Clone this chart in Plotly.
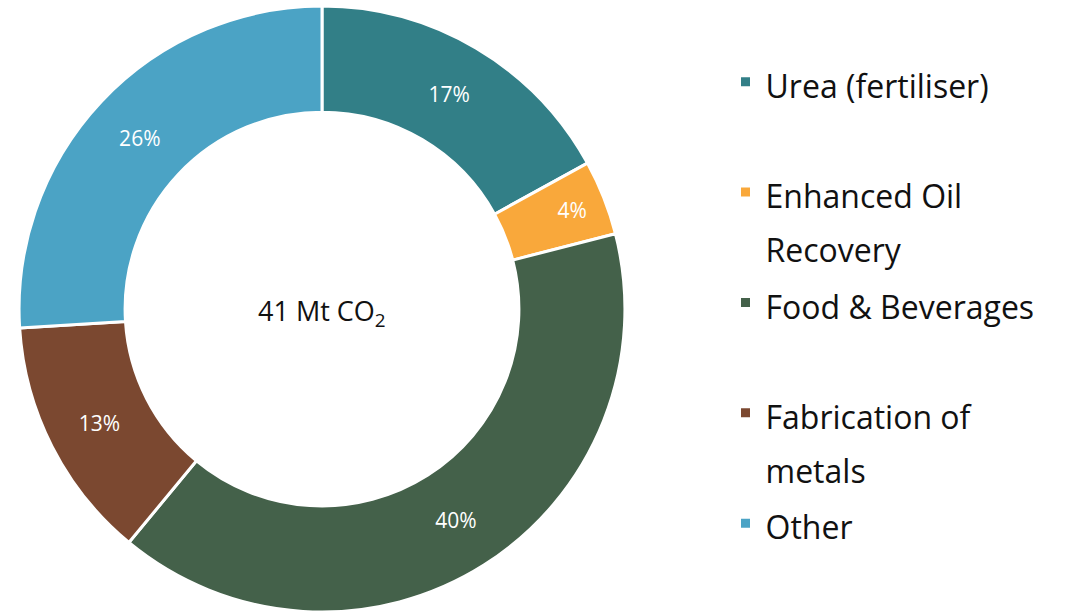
import plotly.graph_objects as go

labels = ["Urea (fertiliser)", "Enhanced Oil Recovery", "Food & Beverages", "Fabrication of metals", "Other"]
legend_labels = ["Urea (fertiliser)<br> ", "Enhanced Oil<br>Recovery", "Food & Beverages<br> ",
                 "Fabrication of<br>metals", "Other<br> "]
values = [17, 4, 40, 13, 26]
colors = ["#327F87", "#F9A83B", "#44614A", "#7B4830", "#4BA3C5"]
center_text = "41 Mt CO<sub>2</sub>"

FONT = "Open Sans, Lato, sans-serif"
SPAN = '<span style="font-size:32px">'

fig = go.Figure(go.Pie(
    labels=[SPAN + l.replace("<br>", "</span><br>" + SPAN) + "</span>" for l in legend_labels],
    values=values,
    marker=dict(colors=colors, line=dict(color="white", width=3)),
    hole=0.65,
    sort=False,
    direction="clockwise",
    rotation=0,
    textinfo="percent",
    textposition="inside",
    insidetextorientation="horizontal",
    textfont=dict(color="white", size=21, family=FONT),
    domain=dict(x=[0, 644 / 1079], y=[0, 0.99]),
    hoverinfo="label+percent",
))

fig.add_annotation(text=center_text, x=322 / 1079, y=1 - 312 / 612, xref="paper", yref="paper",
                   xanchor="center", yanchor="middle",
                   showarrow=False, font=dict(size=27, color="#111", family=FONT))

fig.update_layout(
    width=1079, height=612,
    margin=dict(l=0, r=0, t=0, b=0),
    paper_bgcolor="white",
    font=dict(family=FONT, color="#111"),
    legend=dict(x=0.6724, y=0.921, xanchor="left", yanchor="top", valign="top",
                font=dict(size=41.3, color="#111", family=FONT), bgcolor="rgba(0,0,0,0)"),
)

fig.write_html("out.html")
